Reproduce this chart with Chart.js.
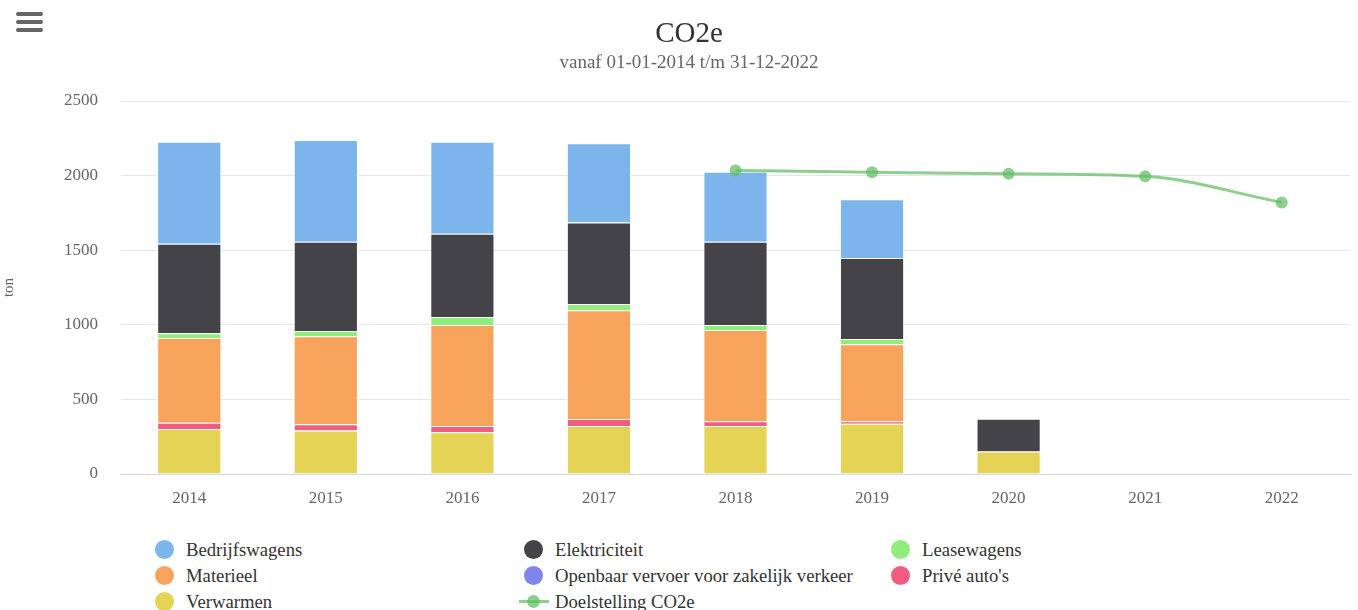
<!DOCTYPE html>
<html>
<head>
<meta charset="utf-8">
<title>CO2e</title>
<script src="https://cdn.jsdelivr.net/npm/chart.js@4.4.1/dist/chart.umd.min.js"></script>
<style>
    html, body { margin: 0; padding: 0; background: #fff; }
    body { width: 1358px; height: 610px; position: relative; overflow: hidden; font-family: "Liberation Serif", "Times New Roman", serif; }
    #wrap { position: absolute; left: 0; top: 0; width: 1358px; height: 520px; }
    .menu { position: absolute; left: 16px; top: 12px; width: 27px; }
    .menu span { display: block; height: 4px; border-radius: 2px; background: #666; margin-bottom: 4px; }
    #legend { position: absolute; left: 155px; top: 537px; display: grid; grid-template-columns: 369px 367px 300px; row-gap: 1px; }
    .item { display: flex; align-items: center; height: 25px; font-size: 18.7px; color: #333; white-space: nowrap; }
    .dot { width: 19px; height: 19px; border-radius: 50%; margin-right: 12px; flex: none; }
    .lineMark { position: relative; width: 30px; height: 19px; margin-left: -5px; margin-right: 6px; flex: none; }
    .lineMark i { position: absolute; left: 0; right: 0; top: 8px; height: 3px; }
    .lineMark b { position: absolute; left: 8px; top: 3px; width: 13px; height: 13px; border-radius: 50%; }
</style>
</head>
<body>
<div class="menu"><span></span><span></span><span></span></div>
<div id="wrap"><canvas id="chartCO2" width="1358" height="520"></canvas></div>
<div id="legend"></div>
<script>
// dati (ton CO2e per anno)
const years = ["2014", "2015", "2016", "2017", "2018", "2019", "2020", "2021", "2022"];
const bedrijfswagens  = [683, 681, 616, 530, 468, 394, null, null, null];
const elektriciteit   = [601, 599, 559, 547, 559, 544, 220, null, null];
const leasewagens     = [32, 34, 54, 42, 33, 34, null, null, null];
const materieel       = [567, 590, 677, 729, 611, 516, null, null, null];
const openbaarVervoer = [null, null, null, null, null, null, null, null, null];
const priveAutos      = [43, 43, 41, 47, 33, 18, null, null, null];
const verwarmen       = [301, 291, 280, 321, 321, 336, 150, null, null];
const doelstelling    = [null, null, null, null, 2035, 2023, 2012, 1995, 1820];
const yTicks = [0, 500, 1000, 1500, 2000, 2500];

const FONT = '"Liberation Serif", "Times New Roman", serif';
const LINE_COLOR = "rgba(98, 188, 98, 0.72)";

// ordine della legenda (come nell'originale): la prima serie sta in cima alla pila
const series = [
    { label: "Bedrijfswagens", data: bedrijfswagens, color: "#7cb5ec" },
    { label: "Elektriciteit", data: elektriciteit, color: "#434348" },
    { label: "Leasewagens", data: leasewagens, color: "#90ed7d" },
    { label: "Materieel", data: materieel, color: "#f7a35c" },
    { label: "Openbaar vervoer voor zakelijk verkeer", data: openbaarVervoer, color: "#8085e9" },
    { label: "Privé auto's", data: priveAutos, color: "#f15c80" },
    { label: "Verwarmen", data: verwarmen, color: "#e4d354" }
];

window.addEventListener("load", function () {
    createChart();
    buildLegend();
});

function createChart() {
    Chart.defaults.font.family = FONT;

    // Chart.js impila dal basso: invertiamo l'ordine
    const barSets = series.slice().reverse().map(function (s) {
        return {
            type: "bar", label: s.label, data: s.data, backgroundColor: s.color,
            borderColor: "#ffffff", borderWidth: 1, stack: "co2", order: 1,
            categoryPercentage: 1, barPercentage: 0.47
        };
    });

    const lineSet = {
        type: "line", label: "Doelstelling CO2e", data: doelstelling, stack: "doel", order: 0,
        borderColor: LINE_COLOR, backgroundColor: LINE_COLOR, borderWidth: 3,
        pointRadius: 6, pointBorderWidth: 0, pointBackgroundColor: LINE_COLOR,
        tension: 0.4, cubicInterpolationMode: "monotone", spanGaps: false
    };

    new Chart(document.getElementById("chartCO2"), {
        type: "bar",
        data: { labels: years, datasets: barSets.concat([lineSet]) },
        options: {
            responsive: false,
            animation: false,
            // padding sinistro per centrare il titolo come nell'originale
            layout: { padding: { left: 28, right: 8, top: 0, bottom: 0 } },
            plugins: {
                legend: { display: false },
                tooltip: { enabled: false },
                title: {
                    display: true, text: "CO2e", color: "#333333",
                    font: { size: 29, weight: "normal" }, padding: { top: 17, bottom: 0 }
                },
                subtitle: {
                    display: true, text: "vanaf 01-01-2014 t/m 31-12-2022", color: "#666666",
                    font: { size: 19, weight: "normal" }, padding: { top: 0, bottom: 26.4 }
                }
            },
            scales: {
                x: {
                    stacked: true,
                    grid: { display: false },
                    border: { display: true, color: "#ccd6eb", width: 1 },
                    ticks: { color: "#666666", font: { size: 17 }, padding: 6 },
                    afterFit: function (scale) { scale.height = 46; }
                },
                y: {
                    stacked: true,
                    min: 0, max: 2500,
                    afterBuildTicks: function (scale) { scale.ticks = yTicks.map(v => ({ value: v })); },
                    grid: { color: "#e6e6e6", drawTicks: false },
                    border: { display: false },
                    ticks: { color: "#666666", font: { size: 17 }, padding: 23, callback: v => String(v) },
                    title: { display: true, text: "ton", color: "#666666", font: { size: 15 }, padding: { top: -28, bottom: 0 } },
                    afterFit: function (scale) { scale.width = 93; }
                }
            }
        }
    });
}

function buildLegend() {
    const legend = document.getElementById("legend");
    const items = series.map(s => ({ label: s.label, color: s.color, line: false }));
    items.push({ label: "Doelstelling CO2e", color: LINE_COLOR, line: true });

    items.forEach(function (it) {
        const div = document.createElement("div");
        div.className = "item";
        if (it.line) {
            div.innerHTML = '<span class="lineMark"><i style="background:' + it.color + '"></i><b style="background:' + it.color + '"></b></span>';
        } else {
            div.innerHTML = '<span class="dot" style="background:' + it.color + '"></span>';
        }
        div.appendChild(document.createTextNode(it.label));
        legend.appendChild(div);
    });
}
</script>
</body>
</html>
